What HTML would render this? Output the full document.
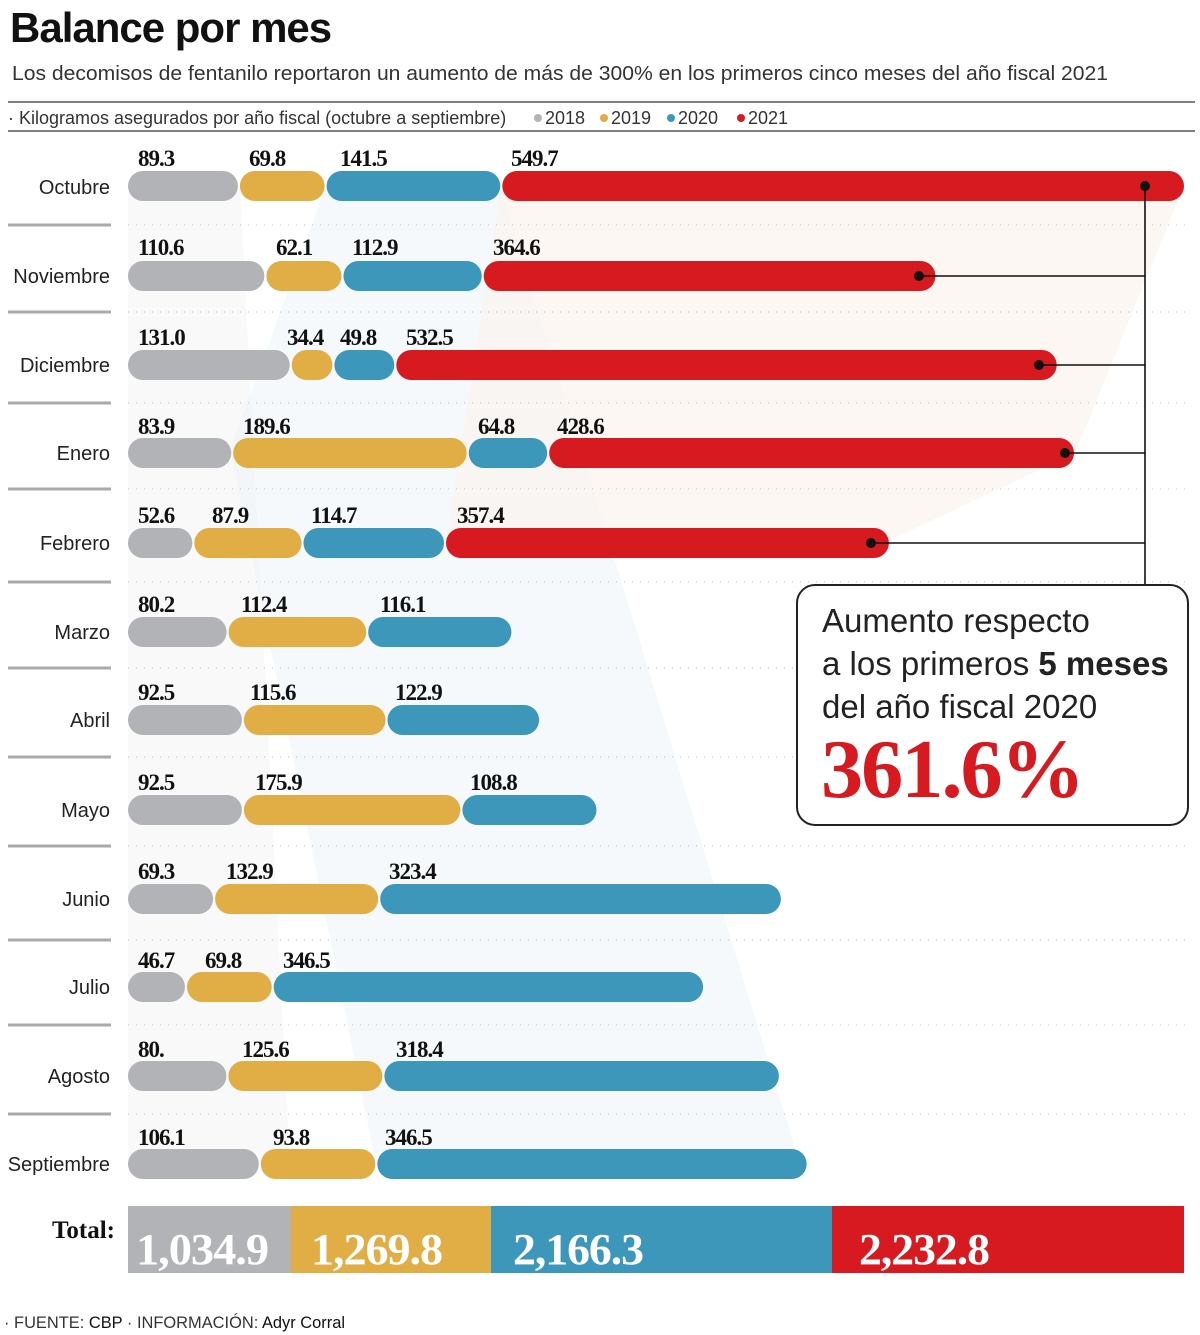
<!DOCTYPE html>
<html><head><meta charset="utf-8"><style>
html,body{margin:0;padding:0;background:#fff}
svg{display:block}
.m{font-family:"Liberation Sans",sans-serif;font-size:20px;fill:#222;text-anchor:end}
.n{font-family:"Liberation Serif",serif;font-weight:bold;font-size:23px;fill:#111;letter-spacing:-1px}
.g{fill:#b1b3b6}.y{fill:#e0ae45}.b{fill:#3d97bb}.r{fill:#d71920}
</style></head><body>
<svg width="1200" height="1335" viewBox="0 0 1200 1335" xmlns="http://www.w3.org/2000/svg">
<text x="10" y="42" font-family="Liberation Sans,sans-serif" font-weight="bold" font-size="42" fill="#111" letter-spacing="-1">Balance por mes</text>
<text x="12" y="80" font-family="Liberation Sans,sans-serif" font-size="20" fill="#333" textLength="1096" lengthAdjust="spacingAndGlyphs">Los decomisos de fentanilo reportaron un aumento de más de 300% en los primeros cinco meses del año fiscal 2021</text>
<line x1="8" y1="102" x2="1195" y2="102" stroke="#555" stroke-width="1.5"/>
<line x1="8" y1="131" x2="1195" y2="131" stroke="#555" stroke-width="1.5"/>
<g font-family="Liberation Sans,sans-serif" font-size="18" fill="#333">
<text x="8" y="124">· Kilogramos asegurados por año fiscal (octubre a septiembre)</text>
<circle cx="538" cy="118" r="4" class="g"/><text x="545" y="124">2018</text>
<circle cx="604" cy="118" r="4" class="y"/><text x="611" y="124">2019</text>
<circle cx="671" cy="118" r="4" class="b"/><text x="678" y="124">2020</text>
<circle cx="741" cy="118" r="4" class="r"/><text x="748" y="124">2021</text>
</g>
<g>
<polygon points="128,186 240,186 290,1164 128,1164" fill="#f3f3f3" opacity="0.5"/>
<polygon points="326,186 500,186 800,1164 376,1164 230,450" fill="#e8f2f7" opacity="0.45"/>
<polygon points="501,186 1184,186 1075,453 880,545 446,545" fill="#fbf4ee" opacity="0.7"/>
</g>
<g stroke="#aaa" stroke-width="3">
<line x1="8" y1="225" x2="111" y2="225"/><line x1="8" y1="312" x2="111" y2="312"/><line x1="8" y1="403" x2="111" y2="403"/><line x1="8" y1="489" x2="111" y2="489"/><line x1="8" y1="582" x2="111" y2="582"/><line x1="8" y1="668" x2="111" y2="668"/><line x1="8" y1="757" x2="111" y2="757"/><line x1="8" y1="846" x2="111" y2="846"/><line x1="8" y1="940" x2="111" y2="940"/><line x1="8" y1="1025" x2="111" y2="1025"/><line x1="8" y1="1114" x2="111" y2="1114"/>
</g>
<g stroke="#bbb" stroke-width="1" stroke-dasharray="1 7">
<line x1="128" y1="225" x2="1192" y2="225"/><line x1="128" y1="312" x2="1192" y2="312"/><line x1="128" y1="403" x2="1192" y2="403"/><line x1="128" y1="489" x2="1192" y2="489"/><line x1="128" y1="582" x2="1192" y2="582"/><line x1="128" y1="668" x2="1192" y2="668"/><line x1="128" y1="757" x2="1192" y2="757"/><line x1="128" y1="846" x2="1192" y2="846"/><line x1="128" y1="940" x2="1192" y2="940"/><line x1="128" y1="1025" x2="1192" y2="1025"/><line x1="128" y1="1114" x2="1192" y2="1114"/>
</g>
<text class="m" x="110" y="194">Octubre</text>
<text class="m" x="110" y="283">Noviembre</text>
<text class="m" x="110" y="372">Diciembre</text>
<text class="m" x="110" y="460">Enero</text>
<text class="m" x="110" y="550">Febrero</text>
<text class="m" x="110" y="639">Marzo</text>
<text class="m" x="110" y="727">Abril</text>
<text class="m" x="110" y="817">Mayo</text>
<text class="m" x="110" y="906">Junio</text>
<text class="m" x="110" y="994">Julio</text>
<text class="m" x="110" y="1083">Agosto</text>
<text class="m" x="110" y="1171">Septiembre</text>
<rect class="g" x="128" y="171" width="109.9" height="30" rx="15"/>
<rect class="y" x="239.9" y="171" width="84.7" height="30" rx="15"/>
<rect class="b" x="326.6" y="171" width="173.7" height="30" rx="15"/>
<rect class="r" x="502.3" y="171" width="681.7" height="30" rx="15"/>
<text class="n" x="138" y="166">89.3</text><text class="n" x="249" y="166">69.8</text><text class="n" x="340" y="166">141.5</text><text class="n" x="511" y="166">549.7</text>
<rect class="g" x="128" y="261" width="136.4" height="30" rx="15"/>
<rect class="y" x="266.4" y="261" width="75.1" height="30" rx="15"/>
<rect class="b" x="343.5" y="261" width="138.2" height="30" rx="15"/>
<rect class="r" x="483.7" y="261" width="451.8" height="30" rx="15"/>
<text class="n" x="138" y="255">110.6</text><text class="n" x="276" y="255">62.1</text><text class="n" x="352" y="255">112.9</text><text class="n" x="493" y="255">364.6</text>
<rect class="g" x="128" y="350" width="161.7" height="30" rx="15"/>
<rect class="y" x="291.7" y="350" width="40.7" height="30" rx="15"/>
<rect class="b" x="334.4" y="350" width="59.9" height="30" rx="15"/>
<rect class="r" x="396.3" y="350" width="660.4" height="30" rx="15"/>
<text class="n" x="138" y="345">131.0</text><text class="n" x="287" y="345">34.4</text><text class="n" x="340" y="345">49.8</text><text class="n" x="406" y="345">532.5</text>
<rect class="g" x="128" y="438" width="103.2" height="30" rx="15"/>
<rect class="y" x="233.2" y="438" width="233.5" height="30" rx="15"/>
<rect class="b" x="468.7" y="438" width="78.5" height="30" rx="15"/>
<rect class="r" x="549.2" y="438" width="524.8" height="30" rx="15"/>
<text class="n" x="138" y="434">83.9</text><text class="n" x="243" y="434">189.6</text><text class="n" x="478" y="434">64.8</text><text class="n" x="557" y="434">428.6</text>
<rect class="g" x="128" y="528" width="64.3" height="30" rx="15"/>
<rect class="y" x="194.3" y="528" width="107.2" height="30" rx="15"/>
<rect class="b" x="303.5" y="528" width="140.5" height="30" rx="15"/>
<rect class="r" x="446" y="528" width="442.9" height="30" rx="15"/>
<text class="n" x="138" y="523">52.6</text><text class="n" x="212" y="523">87.9</text><text class="n" x="311" y="523">114.7</text><text class="n" x="457" y="523">357.4</text>
<rect class="g" x="128" y="617" width="98.6" height="30" rx="15"/>
<rect class="y" x="228.6" y="617" width="137.6" height="30" rx="15"/>
<rect class="b" x="368.2" y="617" width="143.2" height="30" rx="15"/>
<text class="n" x="138" y="612">80.2</text><text class="n" x="241" y="612">112.4</text><text class="n" x="380" y="612">116.1</text>
<rect class="g" x="128" y="705" width="113.9" height="30" rx="15"/>
<rect class="y" x="243.9" y="705" width="141.6" height="30" rx="15"/>
<rect class="b" x="387.5" y="705" width="151.6" height="30" rx="15"/>
<text class="n" x="138" y="700">92.5</text><text class="n" x="250" y="700">115.6</text><text class="n" x="395" y="700">122.9</text>
<rect class="g" x="128" y="795" width="113.9" height="30" rx="15"/>
<rect class="y" x="243.9" y="795" width="216.5" height="30" rx="15"/>
<rect class="b" x="462.4" y="795" width="134.1" height="30" rx="15"/>
<text class="n" x="138" y="790">92.5</text><text class="n" x="255" y="790">175.9</text><text class="n" x="470" y="790">108.8</text>
<rect class="g" x="128" y="884" width="85.1" height="30" rx="15"/>
<rect class="y" x="215.1" y="884" width="163.1" height="30" rx="15"/>
<rect class="b" x="380.2" y="884" width="400.7" height="30" rx="15"/>
<text class="n" x="138" y="879">69.3</text><text class="n" x="226" y="879">132.9</text><text class="n" x="389" y="879">323.4</text>
<rect class="g" x="128" y="972" width="57" height="30" rx="15"/>
<rect class="y" x="187" y="972" width="84.7" height="30" rx="15"/>
<rect class="b" x="273.7" y="972" width="429.4" height="30" rx="15"/>
<text class="n" x="138" y="968">46.7</text><text class="n" x="205" y="968">69.8</text><text class="n" x="283" y="968">346.5</text>
<rect class="g" x="128" y="1061" width="98.4" height="30" rx="15"/>
<rect class="y" x="228.4" y="1061" width="154" height="30" rx="15"/>
<rect class="b" x="384.4" y="1061" width="394.5" height="30" rx="15"/>
<text class="n" x="138" y="1057">80.</text><text class="n" x="242" y="1057">125.6</text><text class="n" x="396" y="1057">318.4</text>
<rect class="g" x="128" y="1149" width="130.8" height="30" rx="15"/>
<rect class="y" x="260.8" y="1149" width="114.5" height="30" rx="15"/>
<rect class="b" x="377.3" y="1149" width="429.4" height="30" rx="15"/>
<text class="n" x="138" y="1145">106.1</text><text class="n" x="273" y="1145">93.8</text><text class="n" x="385" y="1145">346.5</text>
<g stroke="#111" stroke-width="1.6" fill="none">
<line x1="1145" y1="186" x2="1145" y2="585"/>
<line x1="919" y1="276" x2="1145" y2="276"/>
<line x1="1039" y1="365" x2="1145" y2="365"/>
<line x1="1065" y1="453" x2="1145" y2="453"/>
<line x1="871" y1="543" x2="1145" y2="543"/>
</g>
<g fill="#111"><circle cx="1145" cy="186" r="5"/><circle cx="919" cy="276" r="5"/><circle cx="1039" cy="365" r="5"/><circle cx="1065" cy="453" r="5"/><circle cx="871" cy="543" r="5"/></g>
<rect x="797" y="585" width="391" height="240" rx="18" fill="#fff" stroke="#222" stroke-width="2"/>
<g font-family="Liberation Sans,sans-serif" font-size="33" fill="#222">
<text x="822" y="632">Aumento respecto</text>
<text x="822" y="675">a los primeros <tspan font-weight="bold">5 meses</tspan></text>
<text x="822" y="718">del año fiscal 2020</text>
</g>
<text x="821" y="797" font-family="Liberation Serif,serif" font-weight="bold" font-size="84" fill="#d71920" letter-spacing="-2" textLength="262" lengthAdjust="spacingAndGlyphs">361.6%</text>
<text x="52" y="1238" font-family="Liberation Serif,serif" font-weight="bold" font-size="25" fill="#111">Total:</text>
<rect class="g" x="128" y="1206" width="163" height="67"/>
<rect class="y" x="291" y="1206" width="200" height="67"/>
<rect class="b" x="491" y="1206" width="341" height="67"/>
<rect class="r" x="832" y="1206" width="352" height="67"/>
<g font-family="Liberation Serif,serif" font-weight="bold" font-size="44" fill="#fff" letter-spacing="-1">
<text x="136" y="1264" textLength="132" lengthAdjust="spacingAndGlyphs">1,034.9</text><text x="311" y="1264" textLength="131" lengthAdjust="spacingAndGlyphs">1,269.8</text><text x="513" y="1264" textLength="130" lengthAdjust="spacingAndGlyphs">2,166.3</text><text x="859" y="1264" textLength="130" lengthAdjust="spacingAndGlyphs">2,232.8</text>
</g>
<text x="4" y="1328" font-family="Liberation Sans,sans-serif" font-size="17" fill="#333" textLength="341" lengthAdjust="spacingAndGlyphs">· FUENTE: <tspan fill="#111">CBP</tspan> · INFORMACIÓN: <tspan fill="#111">Adyr Corral</tspan></text>
</svg>
</body></html>
